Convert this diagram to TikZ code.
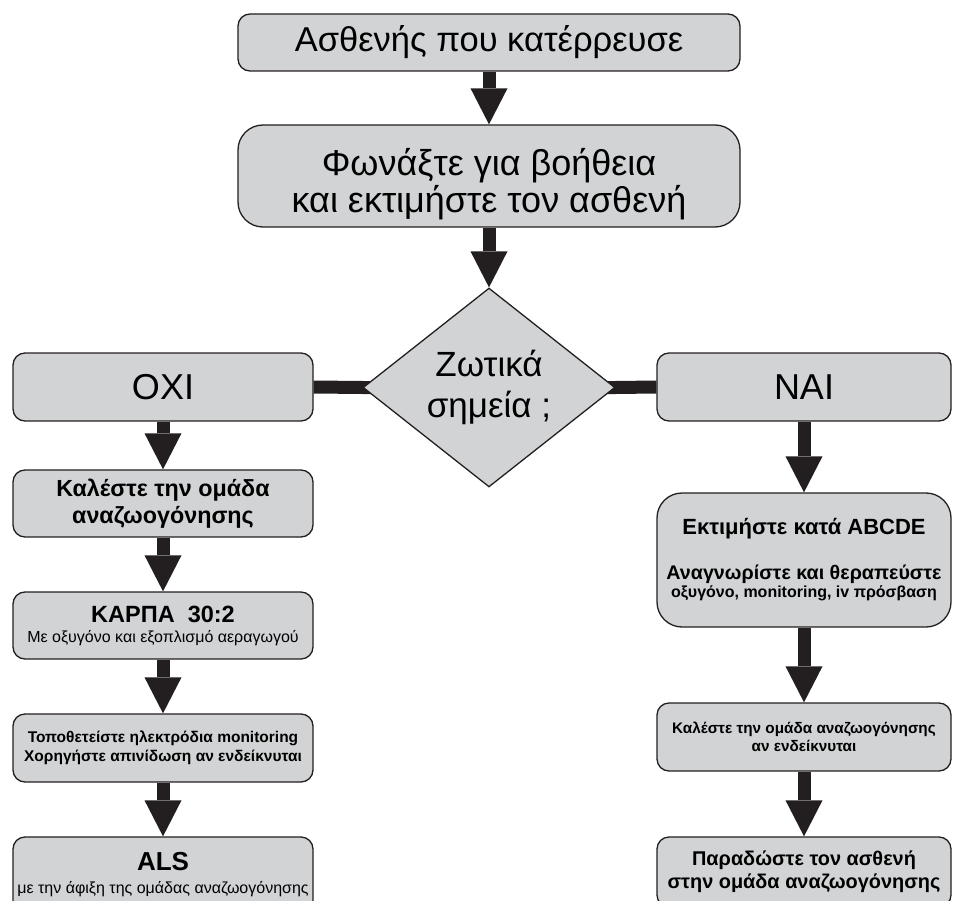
\documentclass[tikz,border=0pt]{standalone}
\usepackage{fontspec}
\setmainfont{Liberation Sans}
\usepackage[dvipsnames]{xcolor}
\usetikzlibrary{arrows.meta,shapes.geometric,backgrounds}
\definecolor{boxgray}{RGB}{209,211,212}
\definecolor{inkblack}{RGB}{35,31,32}

\begin{document}
\begin{tikzpicture}[x=1pt,y=-1pt,>={Triangle[length=36pt,width=37pt,line width=0pt]},
                    main node/.style={draw=inkblack,fill=boxgray,line width=1.3pt,rounded corners=12pt,align=center,inner sep=0pt,minimum width=300pt},
                    big node/.style={main node,minimum width=502pt,font=\fontsize{34.5}{37}\selectfont},
                    side node/.style={main node,minimum width=294pt},
                    choice node/.style={diamond,draw=inkblack,fill=boxgray,line width=1.3pt,minimum width=252pt,minimum height=189pt,inner sep=0pt,align=center,font=\fontsize{35}{41}\selectfont},
                    flow/.style={->,line width=13pt,draw=inkblack},
                    bar/.style={-,line width=13pt,draw=inkblack}]

                    \useasboundingbox (0,0) rectangle (953,901);
                    \clip (0,0) rectangle (953,901);

                    \node[big node, minimum height=57pt] (1) at (489,42.5) {Ασθενής που κατέρρευσε};
                    \node[big node, minimum height=102pt, rounded corners=25pt, font=\fontsize{36}{37}\selectfont] (2) at (489,176) {\rule{0pt}{44pt}Φωνάξτε για βοήθεια\\και εκτιμήστε τον ασθενή};
                    \node[choice node] (3) at (489,387.5) {Ζωτικά\\σημεία ;};
                    \node[main node, minimum height=68pt, font=\fontsize{36}{40}\selectfont] (4) at (163,387) {ΟΧΙ};
                    \node[side node, minimum height=68pt, font=\fontsize{36}{40}\selectfont] (5) at (804,387) {ΝΑΙ};

                    % left column
                    \node[main node, minimum height=67pt, font=\bfseries\fontsize{23.3}{26.5}\selectfont] (6) at (163,503.5) {Καλέστε την ομάδα\\αναζωογόνησης};
                    \node[main node, minimum height=67pt, font=\fontsize{16}{20}\selectfont] (7) at (163,625.5) {{\bfseries\fontsize{23.5}{24}\selectfont ΚΑΡΠΑ\ \ 30:2}\\Με οξυγόνο και εξοπλισμό αεραγωγού};
                    \node[main node, minimum height=68pt, font=\bfseries\fontsize{15.5}{18.5}\selectfont] (8) at (163,748) {Τοποθετείστε ηλεκτρόδια monitoring\\Χορηγήστε απινίδωση αν ενδείκνυται};
                    \node[main node, minimum height=76pt, font=\fontsize{16}{23}\selectfont] (9) at (163,875) {{\bfseries\fontsize{26}{26}\selectfont ALS}\\με την άφιξη της ομάδας αναζωογόνησης};

                    % right column
                    \node[side node, minimum height=134pt, rounded corners=25pt, font=\bfseries\fontsize{16}{18}\selectfont] (10) at (804,560) {{\fontsize{22}{21}\selectfont Εκτιμήστε κατά ABCDE}\\[25pt]{\fontsize{19.7}{19}\selectfont Αναγνωρίστε και θεραπεύστε}\\οξυγόνο, monitoring, iv πρόσβαση};
                    \node[side node, minimum height=68pt, font=\bfseries\fontsize{15.3}{18}\selectfont] (11) at (804,737) {Καλέστε την ομάδα αναζωογόνησης\\αν ενδείκνυται};
                    \node[side node, minimum height=70pt, font=\bfseries\fontsize{19.9}{23}\selectfont] (12) at (804,872) {Παραδώστε τον ασθενή\\στην ομάδα αναζωογόνησης};

                    \begin{scope}[on background layer]
                    \draw[flow] (1) to (2);
                    \draw[flow] (2) to (3);
                    \draw[bar, shorten >=-12pt] (4.east) to (3.west);
                    \draw[bar, shorten <=-12pt] (3.east) to (5.west);
                    \draw[flow] (4) to (6);
                    \draw[flow] (6) to (7);
                    \draw[flow] (7) to (8);
                    \draw[flow] (8) to (9);
                    \draw[flow] (5) to (10);
                    \draw[flow] (10) to (11);
                    \draw[flow] (11) to (12);
                    \end{scope}
\end{tikzpicture}
\end{document}
